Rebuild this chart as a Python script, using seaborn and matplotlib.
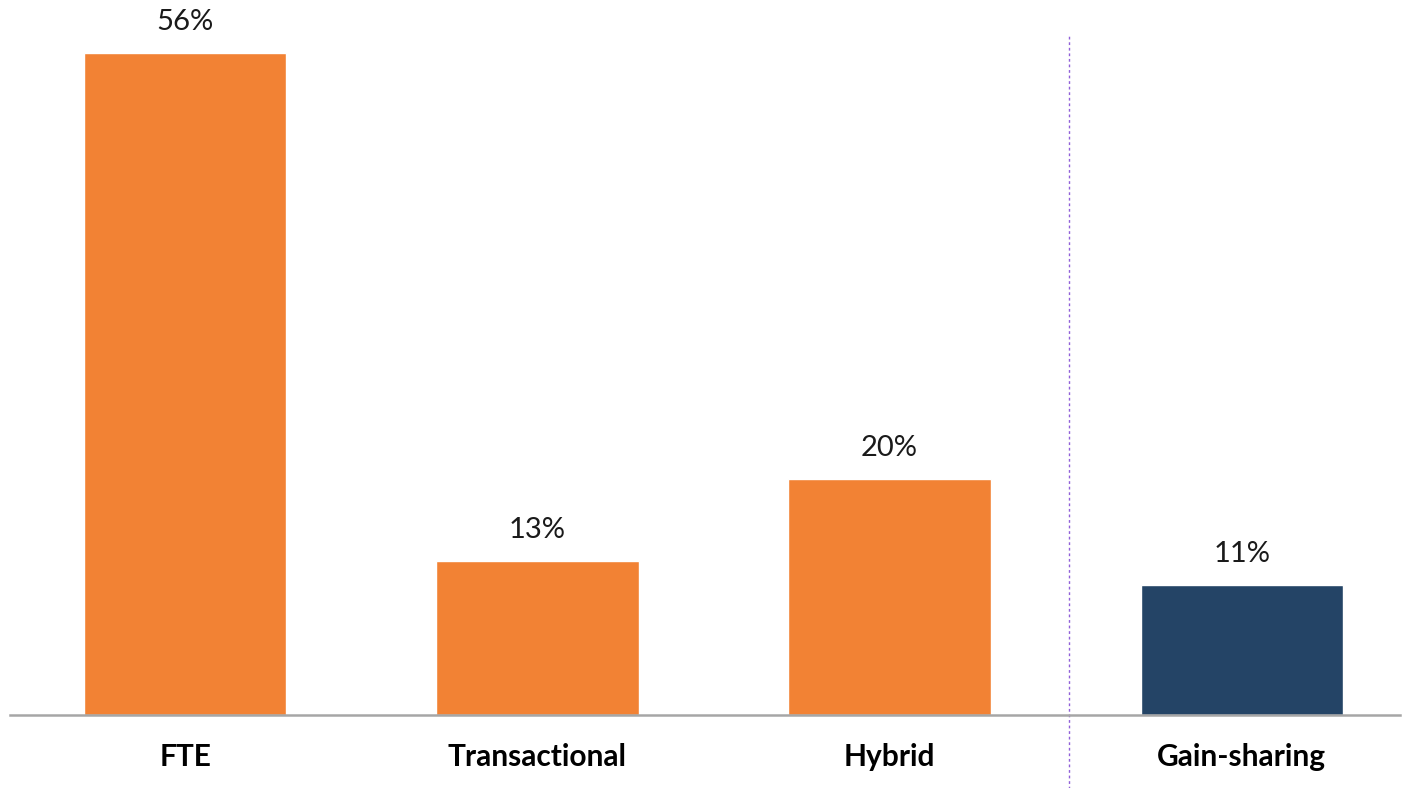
import matplotlib
matplotlib.use("Agg")
import matplotlib.pyplot as plt
import seaborn as sns
import pandas as pd

categories = ["FTE", "Transactional", "Hybrid", "Gain-sharing"]
values = [56, 13, 20, 11]
bar_colors = ["#F28234", "#F28234", "#F28234", "#244466"]

sns.set_style("white")
plt.rcParams['font.family'] = ['Lato', 'DejaVu Sans']

W, H = 1402, 788
fig = plt.figure(figsize=(W / 100, H / 100), dpi=100)
ax = fig.add_axes([10 / W, (H - 715) / H, 1390 / W, 705 / H])

df = pd.DataFrame({"cat": categories, "val": values})
sns.barplot(data=df, x="cat", y="val", hue="cat", palette=bar_colors,
            legend=False, width=0.575, ax=ax, saturation=1)

ax.set_xlim(-0.497, 3.449)
ax.set_ylim(0, 705 / (662 / 56))

for i, v in enumerate(values):
    ax.annotate(f"{v}%", (i, v), xytext=(0, 13), textcoords="offset points",
                ha="center", va="bottom", fontsize=21, color="#1a1a1a")

ax.set_xlabel("")
ax.set_ylabel("")
ax.set_yticks([])
ax.tick_params(axis="x", length=0, pad=20)
for lbl in ax.get_xticklabels():
    lbl.set_fontweight("bold")
    lbl.set_fontsize(21.5)
    lbl.set_color("black")

for s in ["top", "right", "left"]:
    ax.spines[s].set_visible(False)
ax.spines["bottom"].set_color("#A6A6A6")
ax.spines["bottom"].set_linewidth(1.8)

ax.axvline(2.509, ymin=-0.11, ymax=(715 - 36) / 705, color="#9060D8",
           linestyle=(0, (2, 2)), linewidth=1.0, clip_on=False)

fig.savefig("out.png", dpi=100, facecolor="white")
